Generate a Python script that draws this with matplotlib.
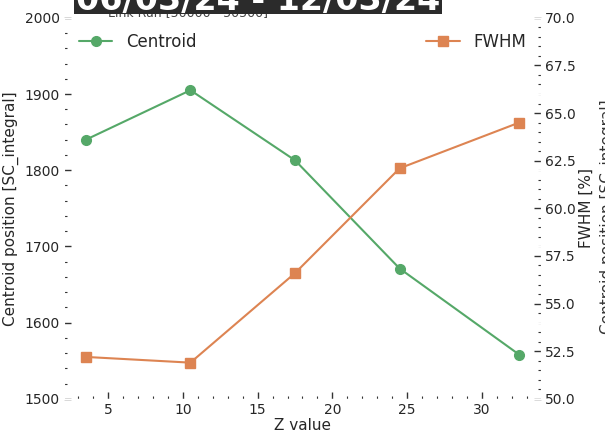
import matplotlib
matplotlib.use("Agg")
from matplotlib import pyplot as plt
from matplotlib.patches import Rectangle
import seaborn as sns

sns.set_style("darkgrid")
plt.rcParams['font.family'] = ['DejaVu Sans']

# data
z_values = [3.5, 10.5, 17.5, 24.5, 32.5]
centroid = [1840, 1905, 1813, 1671, 1558]
fwhm = [52.2, 51.9, 56.6, 62.1, 64.5]

title_text = "06/03/24 - 12/03/24"
run_text = "Link Run [50000 - 50500]"

fig = plt.figure(figsize=(6.05, 4.34), dpi=100)
ax = fig.add_axes([0.106, 0.081, 0.788, 0.878])
ax2 = ax.twinx()

# right axis sits behind so its grid stays under both lines
ax.set_zorder(ax2.get_zorder() + 1)
ax.patch.set_visible(False)
ax2.set_facecolor("#EAEAF2")

ax2.set_ylim(50, 70)
ax.set_ylim(1500, 2000)

l1, = ax.plot(z_values, centroid, "-o", color="#55a868", lw=1.5, ms=7, label="Centroid")
l2, = ax.plot(z_values, fwhm, "-s", color="#dd8452", lw=1.5, ms=7, label="FWHM",
              transform=ax2.transData)

ax.set_yticks([1500, 1600, 1700, 1800, 1900, 2000])
ax2.set_yticks([50, 52.5, 55, 57.5, 60, 62.5, 65, 67.5, 70])
ax2.set_yticklabels(["%.1f" % v for v in ax2.get_yticks()])

ax.set_xlabel("Z value", fontsize=11, labelpad=1)
ax.set_ylabel("Centroid position [SC_integral]", fontsize=11)
ax2.set_ylabel("FWHM [%]", fontsize=11, labelpad=2)

for a in (ax, ax2):
    a.minorticks_on()
    a.tick_params(which="both", direction="in", labelsize=10, pad=3)
    a.tick_params(which="major", length=5, width=1, color="#333333")
    a.tick_params(which="minor", length=2.5, width=0.8, color="#333333")
    a.grid(which="minor", visible=False)
ax.tick_params(which="both", left=True, bottom=True)
ax2.tick_params(which="both", right=True)
ax.grid(True, which="major", color="white", lw=1)
ax2.grid(True, which="major", color="white", lw=1)

leg1 = ax.legend(handles=[l1], loc="upper left", fontsize=12, frameon=False)
ax.add_artist(leg1)
ax.legend(handles=[l2], loc="upper right", fontsize=12, frameon=False)

# run range text partly hidden behind the date banner
fig.text(0.31, 0.972, run_text, fontsize=9, color="#444444", ha="center", va="center", zorder=1)
fig.add_artist(Rectangle((0.122, 0.967), 0.608, 0.05, transform=fig.transFigure,
                         facecolor="#2b2b2b", edgecolor="none", zorder=4))
fig.text(0.427, 0.976, title_text, fontsize=24, fontweight="bold", color="white",
         ha="center", va="baseline", zorder=5)
fig.text(0.992, 0.5, "Centroid position [SC_integral]", rotation=90, fontsize=11,
         color="#333333", ha="left", va="center")

fig.savefig("out.png", dpi=100)
